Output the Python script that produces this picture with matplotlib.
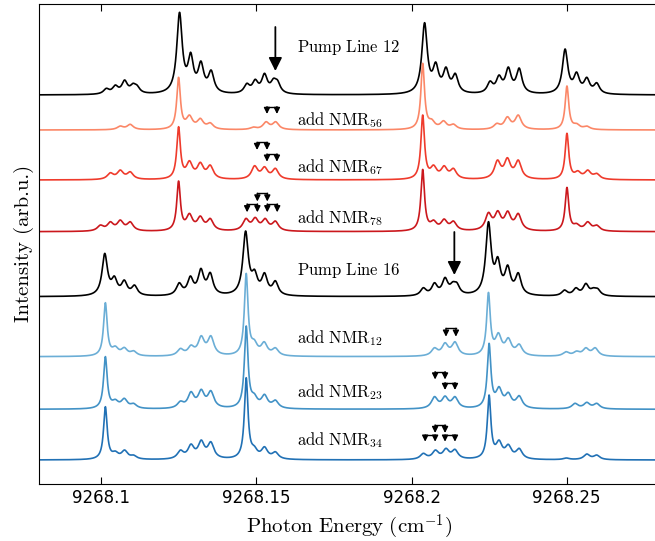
import numpy as np
import matplotlib
matplotlib.use("Agg")
import matplotlib.pyplot as plt

plt.rcParams["mathtext.fontset"] = "cm"

# ===========================
# Peak tables
# (centre in cm^-1, apparent height above own baseline)
# ===========================

pump12_pos = [9268.1016, 9268.1045, 9268.1075, 9268.1102, 9268.1115,
              9268.1252, 9268.1288, 9268.1321, 9268.1354,
              9268.1469, 9268.1496, 9268.1526, 9268.1555, 9268.1568,
              9268.2042, 9268.2078, 9268.2111, 9268.2141,
              9268.2253, 9268.2282, 9268.2312, 9268.2347,
              9268.2495, 9268.2532, 9268.2565, 9268.2597]
pump12_hgt = [6.7, 10, 15, 11.7, 10,
              82.7, 42.7, 34, 25,
              11.7, 15.7, 21.7, 16.7, 15,
              72.3, 33, 28, 21.7,
              14, 20, 28, 27,
              46, 23, 17.7, 12.3]

nmr56_pos = [9268.1061, 9268.1093,
             9268.1249, 9268.1284, 9268.1319, 9268.1351,
             9268.1490, 9268.1531, 9268.1562,
             9268.2036, 9268.2065, 9268.2103, 9268.2135,
             9268.2275, 9268.2309, 9268.2344,
             9268.2501, 9268.2532, 9268.2565]
nmr56_hgt = [4, 5.7,
             52.7, 15, 11.7, 7.3,
             3, 8.3, 8.3,
             66.7, 11, 9.3, 6,
             6.7, 13.3, 15,
             44, 6.7, 4]

nmr67_pos = [9268.1029, 9268.1061, 9268.1093,
             9268.1249, 9268.1284, 9268.1319, 9268.1351,
             9268.1494, 9268.1526, 9268.1561,
             9268.2036, 9268.2071, 9268.2105, 9268.2135,
             9268.2277, 9268.2309, 9268.2344,
             9268.2501, 9268.2536, 9268.2568, 9268.2597]
nmr67_hgt = [7.3, 10, 8.3,
             53.3, 19.3, 17.7, 15,
             14.3, 13.3, 11.7,
             65, 15, 14.3, 11.7,
             20, 22.3, 20,
             46.7, 9.3, 10, 6.7]

nmr78_pos = [9268.0997, 9268.1029, 9268.1061, 9268.1093,
             9268.1249, 9268.1284, 9268.1319, 9268.1351,
             9268.1466, 9268.1496, 9268.1528, 9268.1561,
             9268.2036, 9268.2071, 9268.2105, 9268.2135,
             9268.2248, 9268.2278, 9268.2310, 9268.2344,
             9268.2501, 9268.2532, 9268.2568, 9268.2597]
nmr78_hgt = [6.7, 10, 11.7, 10,
             50.7, 18.3, 15.7, 13.3,
             13.3, 14.3, 13.3, 10.7,
             62.3, 11.7, 12.7, 10.7,
             19.3, 21, 20.7, 18.3,
             44.3, 8.3, 10, 6.7]

pump16_pos = [9268.1011, 9268.1042, 9268.1074, 9268.1107,
              9268.1251, 9268.1287, 9268.1321, 9268.1351,
              9268.1465, 9268.1494, 9268.1526, 9268.1561,
              9268.2038, 9268.2074, 9268.2108, 9268.2133, 9268.2146,
              9268.2248, 9268.2278, 9268.2310, 9268.2344,
              9268.2493, 9268.2530, 9268.2562, 9268.2586, 9268.2600]
pump16_hgt = [43.3, 20.7, 16.7, 11.7,
              14, 20.7, 28.3, 24.3,
              65.7, 27.3, 24, 16,
              9, 14, 19.3, 15, 14.3,
              75, 40, 31.7, 24,
              6.7, 9, 13.3, 9, 8.3]

nmr12_pos = [9268.1013, 9268.1045, 9268.1074, 9268.1104,
             9268.1255, 9268.1289, 9268.1322, 9268.1353,
             9268.1467, 9268.1493, 9268.1525, 9268.1561,
             9268.2074, 9268.2108, 9268.2140,
             9268.2248, 9268.2280, 9268.2312, 9268.2347,
             9268.2498, 9268.2532, 9268.2562, 9268.2592]
nmr12_hgt = [54, 10.7, 9.3, 6,
             8.3, 11.7, 21, 21,
             83.3, 17.3, 15, 9,
             9, 14, 15,
             64.3, 24, 19, 12.7,
             5, 5.7, 9, 9]

nmr23_pos = [9268.1013, 9268.1045, 9268.1074, 9268.1104,
             9268.1255, 9268.1289, 9268.1322, 9268.1353,
             9268.1467, 9268.1493, 9268.1526, 9268.1561,
             9268.2074, 9268.2108, 9268.2140,
             9268.2250, 9268.2282, 9268.2312, 9268.2347,
             9268.2527, 9268.2565, 9268.2597]
nmr23_hgt = [52.7, 10, 11, 6,
             8.3, 17.7, 20, 18.7,
             83.3, 16, 15, 9.3,
             12.7, 13.3, 12.7,
             66, 22.7, 17, 13.7,
             6, 7, 6]

nmr34_pos = [9268.1013, 9268.1045, 9268.1075, 9268.1104,
             9268.1255, 9268.1289, 9268.1322, 9268.1353,
             9268.1467, 9268.1493, 9268.1526, 9268.1561,
             9268.2038, 9268.2077, 9268.2111, 9268.2140,
             9268.2250, 9268.2282, 9268.2312, 9268.2347,
             9268.2499, 9268.2565, 9268.2597]
nmr34_hgt = [53.3, 9, 10, 5,
             10, 16, 20, 18.3,
             82.3, 14.3, 13.3, 8.3,
             6.7, 10, 11.7, 10.7,
             65, 20, 15.7, 11.7,
             2, 6, 5]

# trace order top -> bottom
labels = [r"$\mathrm{Pump\ Line\ 12}$", r"$\mathrm{add\ NMR}_{56}$",
          r"$\mathrm{add\ NMR}_{67}$", r"$\mathrm{add\ NMR}_{78}$",
          r"$\mathrm{Pump\ Line\ 16}$", r"$\mathrm{add\ NMR}_{12}$",
          r"$\mathrm{add\ NMR}_{23}$", r"$\mathrm{add\ NMR}_{34}$"]
positions = [pump12_pos, nmr56_pos, nmr67_pos, nmr78_pos,
             pump16_pos, nmr12_pos, nmr23_pos, nmr34_pos]
heights = [pump12_hgt, nmr56_hgt, nmr67_hgt, nmr78_hgt,
           pump16_hgt, nmr12_hgt, nmr23_hgt, nmr34_hgt]
offsets = [389, 354, 304, 252.3, 187.3, 127.3, 74.7, 24]
# linewidths (FWHM, cm^-1) of the strong lines and of the weak satellites
fwhm_strong = [0.0021, 0.0014, 0.0014, 0.0014, 0.0021, 0.0014, 0.0014, 0.0014]
fwhm_weak = [0.0022, 0.0024, 0.0024, 0.0024, 0.0022, 0.0024, 0.0024, 0.0024]
colors = ["black", "#fb8767", "#ef3b2c", "#cb181d",
          "black", "#6baed6", "#4292c6", "#2171b5"]
label_y = [436.3, 364, 317.3, 265.7, 214, 145.7, 92.3, 44]

# big arrows marking the pumped line: x, start y, tip y
pump_arrows = [(9268.1561, 457, 413), (9268.2138, 252, 209)]

# hyperfine brackets: left x, right x, bar y, tip y
brackets = [
    (9268.1534, 9268.1566, 377.3, 370),
    (9268.1502, 9268.1534, 341.7, 334),
    (9268.1534, 9268.1566, 330, 322.3),
    (9268.1503, 9268.1535, 290.7, 282.5),
    (9268.1470, 9268.1503, 280, 271.7),
    (9268.1535, 9268.1567, 280, 271.7),
    (9268.2111, 9268.2143, 155.7, 147.3),
    (9268.2076, 9268.2108, 112.3, 104.5),
    (9268.2108, 9268.2140, 101.3, 94),
    (9268.2076, 9268.2108, 59, 51),
    (9268.2044, 9268.2076, 49, 42.3),
    (9268.2108, 9268.2140, 49, 42.3),
]


def spectrum(x, centres, hgt, w_strong, w_weak):
    c = np.asarray(centres)
    h = np.asarray(hgt, dtype=float)
    g = np.where(h >= 40, w_strong, w_weak) / 2
    A = 1 / (1 + ((c[:, None] - c[None, :]) / g[None, :]) ** 2)
    amp = h.copy()
    # scale amplitudes so the summed profile hits the read heights
    for _ in range(300):
        amp *= h / (A @ amp)
    prof = 1 / (1 + ((x[:, None] - c[None, :]) / g[None, :]) ** 2)
    return (amp[None, :] * prof).sum(axis=1)


# ===========================
# Plot
# ===========================

fig = plt.figure(figsize=(6.55, 5.41), dpi=100)
ax = fig.add_axes([39.3 / 655, 57 / 541, 620.4 / 655, 480.5 / 541])

x = np.linspace(9268.08, 9268.28, 4000)
for i in range(len(positions)):
    y = spectrum(x, positions[i], heights[i], fwhm_strong[i], fwhm_weak[i])
    ax.plot(x, offsets[i] + y, color=colors[i], lw=1.2)

for lab, ly in zip(labels, label_y):
    ax.text(9268.1630, ly, lab, fontsize=12, va="center", ha="left")

for ax_x, y0, y1 in pump_arrows:
    ax.annotate("", xy=(ax_x, y1), xytext=(ax_x, y0),
                arrowprops=dict(arrowstyle="-|>", color="black", lw=1.3,
                                mutation_scale=20, shrinkA=0, shrinkB=0))

for xl, xr, yb, yt in brackets:
    ax.plot([xl, xr], [yb, yb], color="black", lw=1.0)
    for xx in (xl, xr):
        ax.annotate("", xy=(xx, yt), xytext=(xx, yb),
                    arrowprops=dict(arrowstyle="-|>", color="black", lw=1.0,
                                    mutation_scale=9, shrinkA=0, shrinkB=0))

ax.set_xlim(9268.08, 9268.28)
ax.set_ylim(0, 480.5)
ax.set_xticks([9268.1, 9268.15, 9268.2, 9268.25])
ax.set_xticklabels(["9268.1", "9268.15", "9268.2", "9268.25"])
ax.set_yticks([])
ax.tick_params(axis="x", direction="in", top=True, length=5, labelsize=12)

ax.set_xlabel(r"$\mathrm{Photon\ Energy\ (cm}^{-1}\mathrm{)}$", fontsize=15)
ax.set_ylabel("Intensity (arb.u.)", fontsize=15, fontfamily="cmr10")

fig.savefig("out.png", dpi=100)
plt.close()
